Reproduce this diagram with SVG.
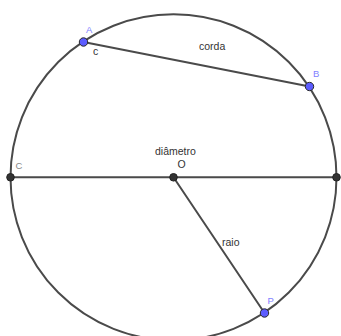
<svg xmlns="http://www.w3.org/2000/svg" width="341" height="336" viewBox="0 0 341 336">
<style>
.ln{stroke:#4a4a4a;stroke-width:2;fill:none;stroke-linecap:round}
.pb{fill:#5c5cff;stroke:#2a2a2a;stroke-width:1}
.pk{fill:#333;stroke:#222;stroke-width:1}
.lb{font-family:"Liberation Sans",Arial,sans-serif;font-size:10.5px;fill:#333}
.lp{font-family:"Liberation Sans",Arial,sans-serif;font-size:9.5px;fill:#7f7fff}
.lg{font-family:"Liberation Sans",Arial,sans-serif;font-size:9.5px;fill:#888}
</style>
<rect width="341" height="336" fill="#fff"/>
<g id="connectors">
<circle id="circle" class="ln" cx="173.5" cy="177.3" r="163"/>
<line id="corda" class="ln" x1="83.5" y1="42" x2="309.5" y2="86.5"/>
<line id="diametro" class="ln" x1="10.5" y1="177.3" x2="336.5" y2="177.3"/>
<line id="raio" class="ln" x1="173.5" y1="177.3" x2="264.5" y2="313"/>
<text class="lb" x="93" y="55" font-size="9.5">c</text>
<text class="lb" x="199" y="50">corda</text>
<text class="lb" x="155" y="155">diâmetro</text>
<text class="lb" x="222" y="245.5">raio</text>
</g>
<g id="A"><circle class="pb" cx="83.5" cy="42" r="4.2"/><text class="lp" x="86" y="33">A</text></g>
<g id="B"><circle class="pb" cx="309.5" cy="86.5" r="4.2"/><text class="lp" x="313" y="77">B</text></g>
<g id="P"><circle class="pb" cx="264.5" cy="313" r="4.2"/><text class="lp" x="267.5" y="303.5">P</text></g>
<g id="C"><circle class="pk" cx="10.5" cy="177.3" r="3.8"/><text class="lg" x="15.5" y="169">C</text></g>
<g id="O"><circle class="pk" cx="173.5" cy="177.3" r="3.8"/><text class="lb" x="177.5" y="168" font-size="9.5">O</text></g>
<g id="D"><circle class="pk" cx="336.5" cy="177.3" r="3.8"/></g>
</svg>
